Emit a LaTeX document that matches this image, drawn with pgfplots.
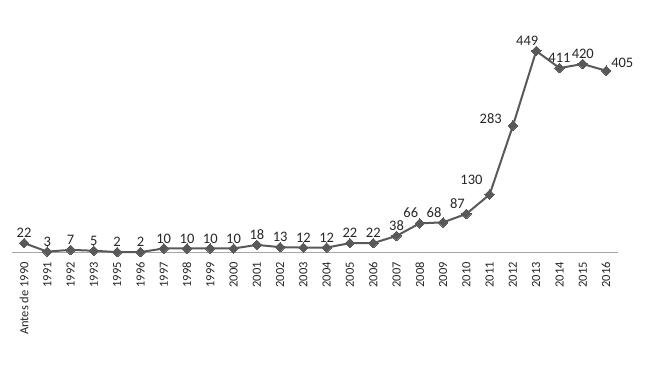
\documentclass[border=0pt]{standalone}
\usepackage{fontspec}
\setmainfont{Carlito}
\usepackage{pgfplots}
\pgfplotsset{compat=1.18}
\definecolor{ln}{HTML}{595959}
\definecolor{ax}{HTML}{A6A6A6}
\definecolor{tx}{HTML}{262626}
\begin{document}
\begin{tikzpicture}
\useasboundingbox (0pt,0pt) rectangle (650pt,369pt);
\begin{axis}[
  at={(12.4pt,116pt)}, anchor=south west,
  scale only axis, width=605.3pt, height=225pt,
  xmin=-0.5, xmax=25.5, ymin=0, ymax=500,
  axis x line*=bottom, axis y line=none, ytick=\empty,
  x axis line style={ax, line width=1pt, -},
  major tick length=0pt,
  /pgf/number format/assume math mode=true,
  xtick={0,...,25},
  xticklabels={Antes de 1990,1991,1992,1993,1995,1996,1997,1998,1999,2000,2001,2002,2003,2004,2005,2006,2007,2008,2009,2010,2011,2012,2013,2014,2015,2016},
  xticklabel style={rotate=90, anchor=east, inner sep=0pt, font=\fontsize{12.5}{12.5}\selectfont, text=tx},
  xticklabel shift=9pt,
  clip=false,
  every node near coord/.style={font=\fontsize{14.5}{14.5}\selectfont, text=tx, inner sep=1pt},
]
\addplot[ln, line width=2pt, mark=square*, mark size=3.4pt, mark options={fill=ln, draw=ln, line width=0pt, rotate=45}]
 coordinates {(0,22)(1,3)(2,7)(3,5)(4,2)(5,2)(6,10)(7,10)(8,10)(9,10)(10,18)(11,13)(12,12)(13,12)(14,22)(15,22)(16,38)(17,66)(18,68)(19,87)(20,130)(21,283)(22,449)(23,411)(24,420)(25,405)};
% labels above
\addplot[draw=none, mark=none, nodes near coords, every node near coord/.append style={anchor=south, yshift=4pt}]
 coordinates {(0,22)(1,3)(2,7)(3,5)(4,2)(5,2)(6,10)(7,10)(8,10)(9,10)(10,18)(11,13)(12,12)(13,12)(14,22)(15,22)(16,38)(23,411)(24,420)};
% labels above-left
\addplot[draw=none, mark=none, nodes near coords, every node near coord/.append style={anchor=south, yshift=4pt, xshift=-9pt}]
 coordinates {(17,66)(18,68)(19,87)(22,449)};
% 130
\addplot[draw=none, mark=none, nodes near coords, every node near coord/.append style={anchor=south east, yshift=9pt, xshift=-6pt}]
 coordinates {(20,130)};
% 283
\addplot[draw=none, mark=none, nodes near coords, every node near coord/.append style={anchor=east, yshift=7pt, xshift=-10pt}]
 coordinates {(21,283)};
% 405
\addplot[draw=none, mark=none, nodes near coords, every node near coord/.append style={anchor=south west, yshift=2pt, xshift=4pt}]
 coordinates {(25,405)};
\end{axis}
\end{tikzpicture}
\end{document}
